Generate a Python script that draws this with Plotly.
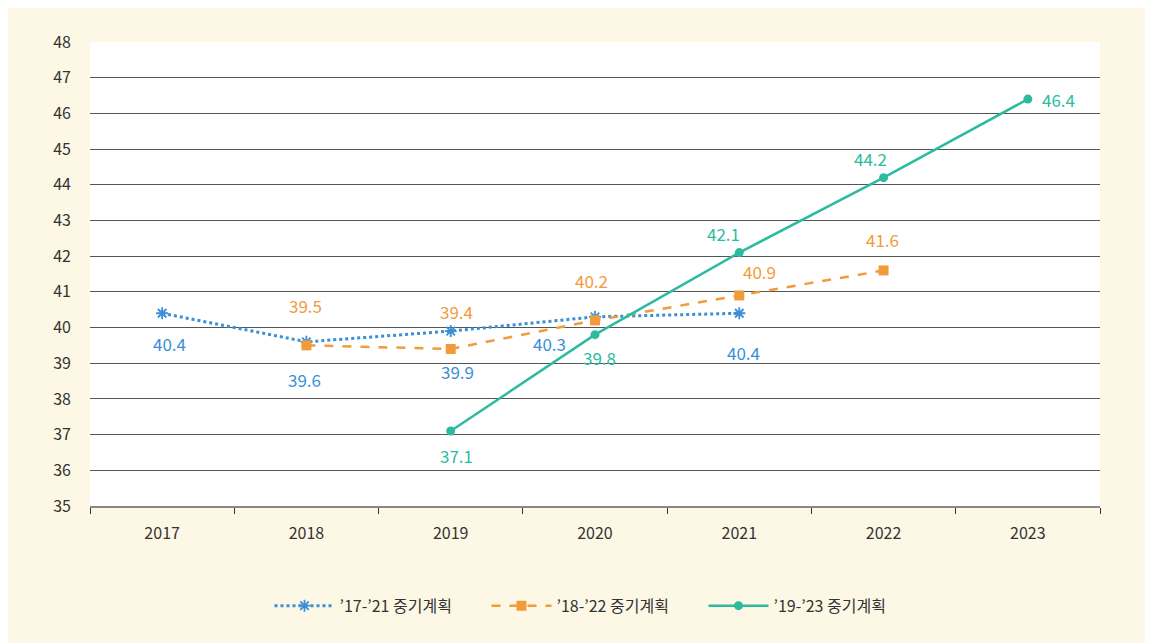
import plotly.graph_objects as go

years = ["2017", "2018", "2019", "2020", "2021", "2022", "2023"]

s1_name = "’17-’21 중기계획"
s1_x = ["2017", "2018", "2019", "2020", "2021"]
s1_y = [40.4, 39.6, 39.9, 40.3, 40.4]

s2_name = "’18-’22 중기계획"
s2_x = ["2018", "2019", "2020", "2021", "2022"]
s2_y = [39.5, 39.4, 40.2, 40.9, 41.6]

s3_name = "’19-’23 중기계획"
s3_x = ["2019", "2020", "2021", "2022", "2023"]
s3_y = [37.1, 39.8, 42.1, 44.2, 46.4]

y_ticks = list(range(35, 49))

BLUE = "#3a8fd6"
ORANGE = "#f29b3a"
TEAL = "#2dbba0"
BG = "#fdf8e6"
FONT = "Noto Sans CJK KR"

# label offsets (pixels) per point
s1_off = [(7, -30), (-2, -38), (7, -40), (-46, -27), (4, -39)]
s2_off = [(-1, 40), (6, 37), (-4, 40), (20, 24), (-1, 31)]
s3_off = [(6, -24), (4, -23), (-16, 19), (-13, 19), (31, 0)]

fig = go.Figure()
fig.add_trace(go.Scatter(
    x=s1_x, y=s1_y, name=s1_name, mode="lines+markers",
    line=dict(color=BLUE, width=3, dash="dot"),
    marker=dict(symbol="asterisk-open", size=10, color=BLUE, line=dict(color=BLUE, width=1.8)),
))
fig.add_trace(go.Scatter(
    x=s2_x, y=s2_y, name=s2_name, mode="lines+markers",
    line=dict(color=ORANGE, width=2.5, dash="dash"),
    marker=dict(symbol="square", size=10, color=ORANGE),
))
fig.add_trace(go.Scatter(
    x=s3_x, y=s3_y, name=s3_name, mode="lines+markers",
    line=dict(color=TEAL, width=2.5),
    marker=dict(symbol="circle", size=9, color=TEAL),
))

annotations = []
for xs, ys, offs, col in [(s1_x, s1_y, s1_off, BLUE), (s2_x, s2_y, s2_off, ORANGE), (s3_x, s3_y, s3_off, TEAL)]:
    for xv, yv, (dx, dy) in zip(xs, ys, offs):
        annotations.append(dict(
            x=years.index(xv), y=yv, xref="x", yref="y", text=f"{yv:.1f}", showarrow=False,
            xshift=dx, yshift=dy, font=dict(family=FONT, size=17, color=col),
        ))

fig.update_layout(
    width=1153, height=643,
    paper_bgcolor=BG, plot_bgcolor="white",
    margin=dict(l=82, r=61, t=34, b=145),
    font=dict(family=FONT, color="#333333"),
    showlegend=True,
    legend=dict(orientation="h", x=0.5, xanchor="center", y=-0.215, yanchor="middle",
                font=dict(family=FONT, size=16, color="#333333"),
                bgcolor="rgba(0,0,0,0)", itemwidth=60,
                entrywidth=142, entrywidthmode="pixels"),
    annotations=annotations,
    xaxis=dict(
        type="category",
        categoryorder="array", categoryarray=years, range=[-0.5, 6.5],
        showgrid=False, showline=True, linecolor="#888888", linewidth=1.5,
        ticks="outside", tickson="boundaries", ticklen=6, tickcolor="#333333",
        tickfont=dict(family=FONT, size=16, color="#333333"), ticklabelstandoff=12,
        zeroline=False,
    ),
    yaxis=dict(
        range=[35, 48], tickvals=y_ticks, showgrid=True, gridcolor="#555555", gridwidth=1,
        showline=False, zeroline=False, ticks="",
        tickfont=dict(family=FONT, size=16, color="#333333"), ticklabelstandoff=18,
    ),
)

fig.write_html("out.html")
